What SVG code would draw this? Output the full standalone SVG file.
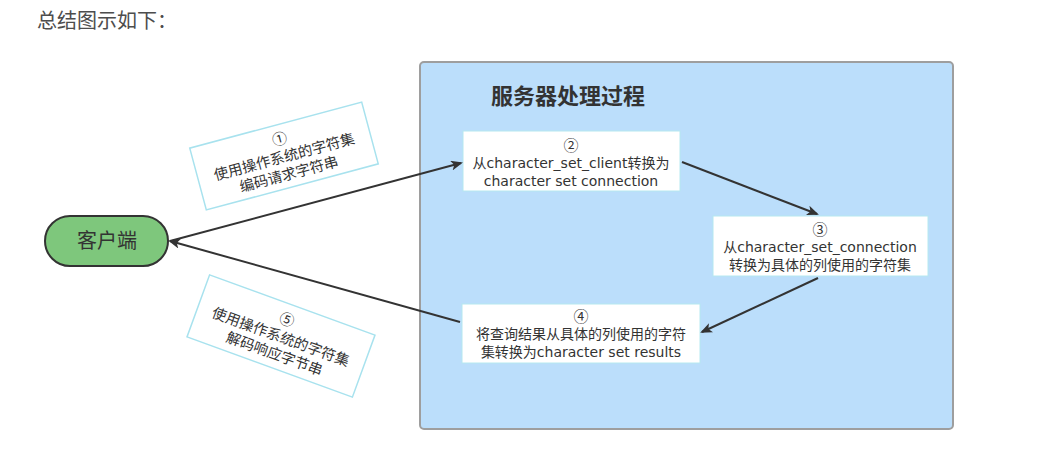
<svg xmlns="http://www.w3.org/2000/svg" width="1064" height="454" viewBox="0 0 1064 454">
<style>
text{font-family:"DejaVu Sans","Noto Sans CJK SC",sans-serif;}
.node{fill:#ffffff;stroke:#b6e8f0;stroke-width:1;}
.t{font-size:14px;fill:#333333;text-anchor:middle;}
.note{fill:#ffffff;stroke:#a8e2ee;stroke-width:1.5;}
.edge{stroke:#333333;stroke-width:2;fill:none;marker-end:url(#arr);}
.cjk{font-family:"Noto Sans CJK SC",sans-serif;}
.num{font-family:"Noto Sans CJK SC",sans-serif;font-size:15px;}
</style>
<defs>
<marker id="arr" markerWidth="12" markerHeight="10" refX="10" refY="5" orient="auto" markerUnits="userSpaceOnUse">
<path d="M0,0 L12,5 L0,10 L3,5 Z" fill="#333333"/>
</marker>
</defs>
<rect width="1064" height="454" fill="#ffffff"/>
<text class="cjk" x="37" y="28" style="font-size:20px;fill:#4d4d4d">总结图示如下：</text>

<g id="server">
<rect x="420" y="62" width="533" height="367" rx="4" fill="#bbdefb" stroke="#9e9e9e" stroke-width="2"/>
<text class="cjk" x="568" y="104" style="font-size:22px;font-weight:bold;fill:#333333;text-anchor:middle">服务器处理过程</text>
</g>

<g id="client">
<rect x="45" y="216" width="123" height="50" rx="25" fill="#7ec77c" stroke="#333333" stroke-width="2"/>
<text class="cjk" x="107" y="248" style="font-size:20px;fill:#333333;text-anchor:middle">客户端</text>
</g>

<g id="note1" transform="translate(284,156) rotate(-15)">
<rect class="note" x="-89" y="-32" width="178" height="64"/>
<text class="t num" x="0" y="-12">①</text>
<text class="t cjk" x="0" y="6" style="font-size:14.5px">使用操作系统的字符集</text>
<text class="t cjk" x="0" y="24" style="font-size:14.5px">编码请求字符串</text>
</g>

<g id="note5" transform="translate(281,336) rotate(20)">
<rect class="note" x="-88" y="-33" width="176" height="66"/>
<text class="t num" x="0" y="-12">⑤</text>
<text class="t cjk" x="0" y="6" style="font-size:14.5px">使用操作系统的字符集</text>
<text class="t cjk" x="0" y="24" style="font-size:14.5px">解码响应字节串</text>
</g>

<g id="step2">
<rect class="node" x="463" y="131" width="217" height="60"/>
<text class="t num" x="571" y="151">②</text>
<text class="t" x="571" y="168">从character_set_client转换为</text>
<text class="t" x="571" y="186">character set connection</text>
</g>

<g id="step3">
<rect class="node" x="713" y="216" width="215" height="60"/>
<text class="t num" x="820" y="235">③</text>
<text class="t" x="820" y="252">从character_set_connection</text>
<text class="t" x="820" y="270">转换为具体的列使用的字符集</text>
</g>

<g id="step4">
<rect class="node" x="462" y="304" width="238" height="59"/>
<text class="t num" x="581" y="322">④</text>
<text class="t" x="581" y="339">将查询结果从具体的列使用的字符</text>
<text class="t" x="581" y="357">集转换为character set results</text>
</g>

<g id="edges">
<line class="edge" x1="170" y1="241" x2="461" y2="163"/>
<line class="edge" x1="682" y1="162" x2="817" y2="214"/>
<line class="edge" x1="818" y1="278" x2="702" y2="332"/>
<line class="edge" x1="460" y1="322" x2="170" y2="241"/>
</g>
</svg>
